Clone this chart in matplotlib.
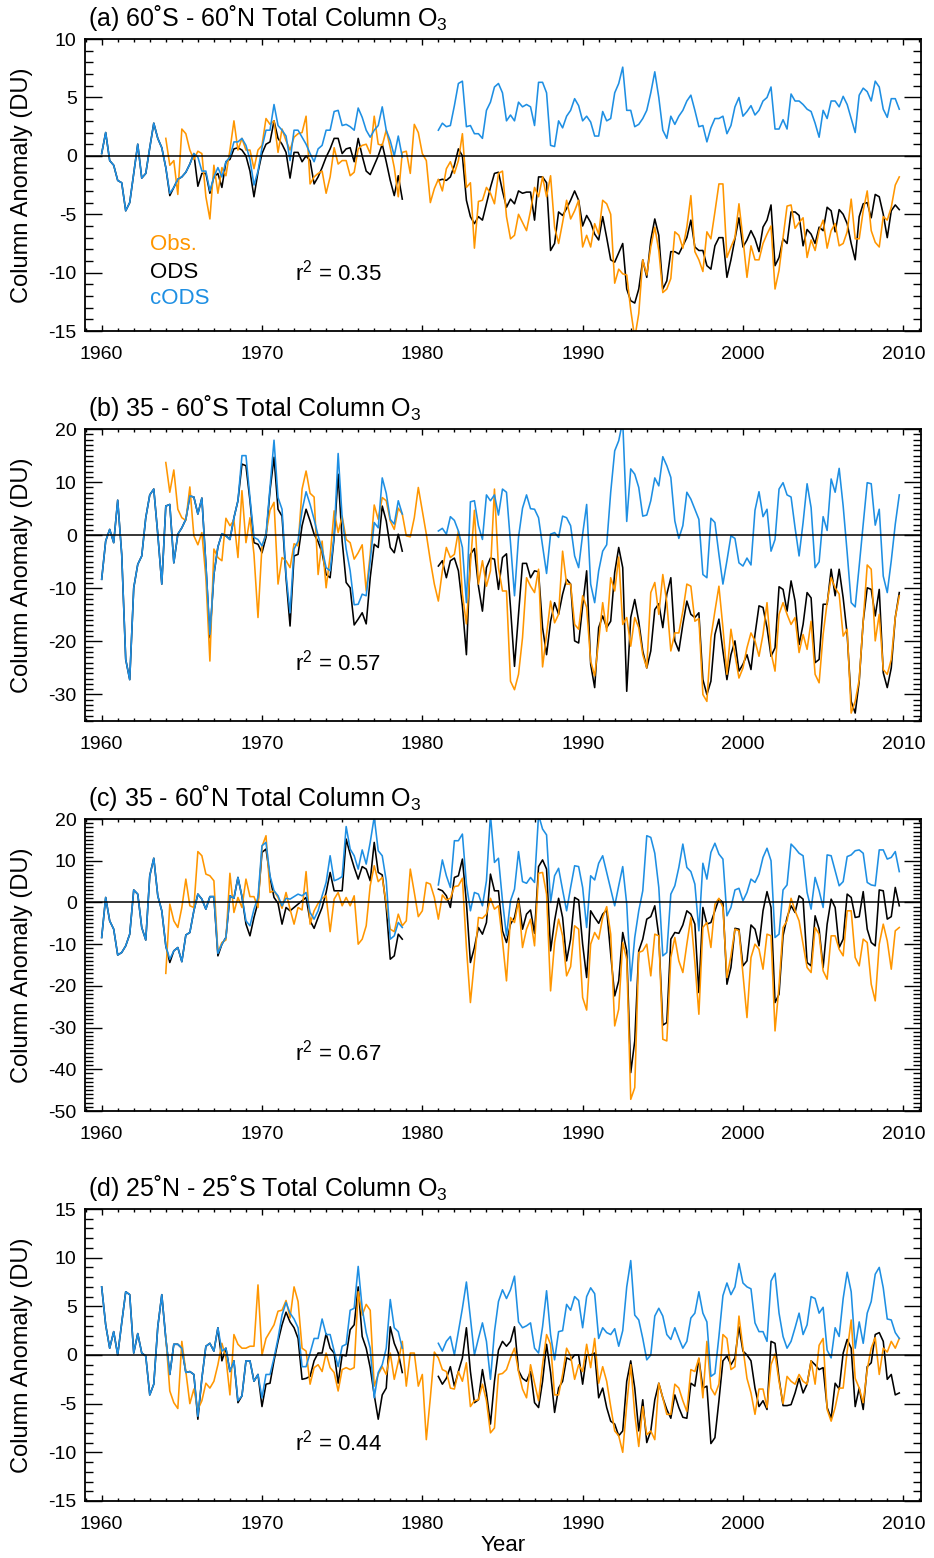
import numpy as np
import matplotlib
matplotlib.use('Agg')
import matplotlib.pyplot as plt
from matplotlib.ticker import MultipleLocator

plt.rcParams['font.family'] = ['Liberation Sans', 'DejaVu Sans']
plt.rcParams['mathtext.fontset'] = 'custom'
plt.rcParams['mathtext.rm'] = 'Liberation Sans'
plt.rcParams['mathtext.it'] = 'Liberation Sans'
plt.rcParams['axes.unicode_minus'] = False

ORANGE = '#ff9600'
BLUE = '#1e8fe3'

# quarterly time axes: obs from 1964, model runs 1960-1978.75 and 1981-2009.75
t_obs = 1964 + 0.25 * np.arange(184)
t_early = 1960 + 0.25 * np.arange(76)
t_late = 1981 + 0.25 * np.arange(116)

# ---------------- (a) 60S - 60N ----------------
a_obs = [1.5, -0.8, -0.4, -3.3, 2.3, 1.9, 0.5, -0.3, 0.4, 0.2, -3.5, -5.4, -0.8, -3.2, -1.0, -1.7, 0.5, 3.0, 0.5, 1.5,
         0.5, 0.5, -1.1, 0.5, 0.9, 3.2, 2.7, 3.0, 0.3, 2.3, 1.3, 0.5, 1.6, 1.9, 2.0, 3.4, -2.4, -1.8, -1.5, -1.3,
         -3.2, -1.8, 0.7, -0.7, -0.4, -0.4, -1.7, -1.4, 0.6, 0.9, 1.0,
         0.2, 3.4, 1.0, 0.9, 2.2, 0.7, -1.0, -3.5, 0.3, 0.4, -1.5, 2.7, 2.0, 0.2, -0.4, -4.0, -2.8, -2.0, -3.0, -1.1,
         -0.5, -1.5, -0.4, 1.9, -2.7, -2.3, -7.9, -3.9, -3.8, -2.7, -3.2, -4.1, -1.5, -1.3, -5.2, -7.1, -6.8, -5.0, -5.7, -6.4,
         -4.7, -2.7, -3.5, -1.8, -3.5, -1.7, -6.1, -7.5, -5.7, -3.8, -5.4, -4.7, -3.8, -7.8, -6.8, -7.8, -5.8, -6.7, -3.8, -4.1,
         -5.0, -10.9, -9.7, -10.1, -10.2, -13.2, -15.6,
         -13.5, -8.9, -10.2, -7.8, -6.1, -8.1, -11.7, -11.4, -10.5, -6.5, -6.8, -7.9, -6.1, -3.4, -8.2, -8.9, -9.9, -6.5, -7.1, -4.8,
         -2.4, -2.4, -8.7, -7.8, -7.0, -4.1, -7.1, -10.4, -7.7, -8.9, -8.9, -7.5, -6.7, -6.0, -11.4, -9.8, -7.0, -4.3, -4.2, -6.2,
         -5.7, -5.3, -8.7, -7.2, -8.1, -6.4, -5.5, -7.9, -6.4, -5.8, -7.7, -7.5, -6.5, -3.7, -7.1, -7.1, -4.7, -3.0, -6.4, -7.4,
         -7.8, -5.2, -5.5, -4.4, -2.5, -1.8]
a_ods_early = [0.2, 2.0, -0.4, -0.8, -2.1, -2.3, -4.7, -4.0, -1.5, 1.0, -1.9, -1.5, 0.7, 2.8, 1.5, 0.7,
               -1.0, -3.4, -2.7, -2.0, -1.8, -1.4, -0.7, 0.2, -2.6, -1.5, -1.5, -3.2, -1.8, -1.5, -2.7, -0.5, -0.3, 0.6, 0.7, 0.5,
               0.0, -1.3, -3.5, -1.4, 0.2, 1.0, 1.2, 3.0, 1.5, 1.0, 0.3, -1.9, 0.3, 0.3, -0.5, 0.0, -0.4, -2.4, -1.8, -1.0,
               -0.1, 0.6, 1.5, 1.5, 0.2, 0.6, 0.7, -0.5, 1.5, 0.0, -1.3,
               -1.6, -0.8, 0.0, 1.0, -0.5, -2.1, -3.4, -1.7, -3.7]
a_ods_late = [-2.1, -2.0, -2.1, -1.8, -0.8, 0.6, 0.0, -3.8, -5.2, -5.8, -5.2, -5.5, -4.1, -2.7, -1.5, -1.4, -3.0, -4.4, -3.7, -4.1,
              -3.0, -3.2, -3.1, -3.1, -5.5, -1.8, -1.8, -2.3, -8.1, -7.5, -4.8, -5.1, -4.5, -3.8, -3.0, -3.8, -6.0, -5.1, -5.7, -6.7,
              -7.2, -5.2, -7.0, -8.9, -9.1, -8.3, -7.5, -11.4, -12.4, -12.6, -11.4, -8.9, -10.4, -7.2, -5.4, -6.8, -11.4, -10.7, -8.2, -8.2,
              -8.4, -7.7, -7.0, -5.5, -7.8, -8.1, -8.1, -9.4, -9.7, -7.7, -7.0, -7.0, -10.4, -8.9, -7.1, -5.3, -7.8, -7.2, -6.4, -7.1,
              -8.2, -6.1, -5.5, -4.2, -9.4, -8.7, -7.1, -7.5, -4.8, -4.8, -5.1, -7.7, -6.3, -6.7, -7.5, -6.1, -6.4, -4.4, -4.7, -6.5,
              -4.6, -5.0, -5.8, -7.5, -8.9, -5.2, -4.1, -4.0, -5.3, -3.3, -3.5, -5.0, -7.0, -4.7, -4.2, -4.6]
a_cods_early = [0.2, 2.0, -0.4, -0.8, -2.1, -2.3, -4.7, -4.0, -1.5, 1.0, -1.9, -1.5, 0.7, 2.8, 1.5, 0.7,
                -1.0, -3.2, -2.7, -2.0, -1.8, -1.4, -0.7, 0.2, -0.1, -1.3, -1.3, -3.0, -1.8, -1.0, -1.8, -0.5, -0.1, 1.2, 1.2, 1.5,
                0.9, -0.3, -2.5, -1.3, 0.7, 2.2, 2.2, 4.4, 2.6, 2.2, 1.7, -0.4, 2.2, 2.2, 1.6, 1.0, 0.2, -0.5, 0.6, 0.9,
                2.2, 2.2, 3.8, 3.9, 2.6, 2.7, 2.5, 2.2, 4.1, 3.3, 2.2,
                1.6, 2.2, 2.6, 4.2, 2.2, 1.3, 0.0, 1.7, -0.1]
a_cods_late = [2.2, 2.8, 2.5, 2.6, 4.3, 6.2, 6.4, 2.5, 2.6, 1.9, 1.9, 1.5, 3.9, 4.6, 5.9, 6.2, 5.4, 3.0, 3.5, 3.0,
               4.6, 4.2, 4.4, 4.2, 2.6, 6.3, 6.3, 5.4, 0.9, 0.8, 3.0, 2.4, 3.4, 3.9, 4.9, 4.3, 3.0, 3.4, 2.9, 1.7,
               1.7, 3.8, 3.0, 3.2, 5.4, 6.2, 7.6, 3.9, 3.9, 2.5, 2.7, 3.2, 3.9, 5.4, 7.2, 5.0, 2.2, 1.5, 3.4, 2.7,
               3.4, 3.9, 4.7, 5.2, 3.9, 2.5, 2.6, 1.2, 2.4, 3.2, 3.2, 3.4, 1.9, 2.6, 4.2, 5.0, 3.4, 3.8, 4.3, 3.5,
               3.9, 4.7, 5.0, 5.9, 2.3, 2.3, 3.1, 2.3, 5.3, 4.7, 4.7, 4.4, 4.0, 3.8, 2.8, 1.6, 3.9, 3.2, 4.7, 4.7,
               4.2, 5.1, 4.4, 3.2, 2.0, 5.2, 5.8, 5.5, 4.7, 6.4, 5.9, 4.0, 3.3, 4.9, 4.9, 4.0]

# ---------------- (b) 35 - 60S ----------------
b_obs = [13.7, 8.1, 12.3, 4.9, 3.3, 2.8, 9.1, -0.1, -1.8, 0.5, -8.0, -23.7, -2.6, -4.2, -4.8, 3.2, 1.8, 2.8, -4.2, 8.4,
         -1.4, 3.3, -3.6, -15.5, -2.0, 0.2, 4.7, 6.2, -9.2, -4.2, -4.8, -6.1, -1.6, -2.0, 8.7, 12.1, 7.9, 7.2, -7.4, -1.1,
         -9.9, -3.9, 4.6, 0.5, 3.6, -0.8, -1.4, -4.5, -3.3, -1.8, -10.5,
         -3.6, 5.7, 3.0, 7.1, 6.5, 2.7, 1.1, 5.1, 4.0, -0.1, -0.3, 3.3, 9.0, 4.6, 0.2, -4.8, -9.2, -12.4, -6.7, -2.3,
         -4.2, -3.6, 0.8, -11.1, -16.7, -5.5, 4.7, -9.2, -4.8, -9.6, -6.7, 8.7, -6.1, -10.5, -10.5, -27.5, -29.1, -26.2, -19.3, -8.0,
         -9.6, -10.8, -6.4, -24.8, -18.7, -12.4, -16.5, -14.9, -3.0, -9.2, -9.2, -16.8, -17.7, -11.4, -13.6, -23.7, -26.5, -19.9, -12.7, -18.1,
         -8.0, -10.5, -4.1, -16.8, -15.5, -20.9, -15.5,
         -17.4, -22.5, -25.0, -10.8, -8.9, -14.9, -7.4, -12.7, -21.8, -18.4, -18.4, -14.3, -9.2, -9.6, -16.2, -15.7, -30.0, -31.3, -19.3, -14.3,
         -9.6, -17.4, -26.2, -17.7, -22.5, -26.9, -25.0, -21.2, -18.4, -19.9, -22.8, -18.7, -12.7, -22.1, -25.6, -14.9, -12.7, -14.9, -16.8, -15.5,
         -22.1, -18.7, -21.5, -16.2, -26.2, -27.8, -18.7, -12.7, -8.0, -9.9, -11.1, -19.0, -17.7, -33.5, -31.3, -27.2, -16.2, -5.6, -6.4, -19.9,
         -14.9, -25.3, -26.2, -23.4, -15.5, -11.4]
b_ods_early = [-8.3, -1.1, 1.1, -1.4, 6.6, -3.6, -23.4, -27.2, -9.9, -5.5, -3.9, 3.3, 7.6, 8.7, 0.2, -9.2, 5.5, 5.8, -5.2, 0.2,
               1.4, 3.0, 7.4, 7.2, 4.0, 7.0, -5.5, -19.3, -7.4, -2.2, 0.3, -0.1, -0.8, 3.3, 6.5,
               13.4, 13.1, 6.5, -1.4, -1.7, -3.3, -0.4, 8.4, 14.7, 4.9, 3.6, -8.0, -17.1, -3.9, -3.6, 1.8, 4.9, 2.7, 0.2, -1.2,
               -3.3, -7.4, -8.0, -0.4, 11.5, -1.1, -8.9, -9.9, -16.9, -15.8, -14.6, -16.7,
               -8.0, -1.7, -2.3, 5.5, 2.7, -2.3, -3.3, 0.2, -3.0]
b_ods_late = [-5.8, -4.8, -8.0, -4.8, -4.3, -6.7, -13.3, -22.5, -3.6, -2.5, -9.6, -14.3, -6.1, -4.3, -4.5, -10.2, -4.2, -3.5, -13.6, -24.7,
              -14.9, -5.3, -5.3, -8.0, -6.7, -6.9, -17.4, -22.5, -16.2, -12.7, -14.9, -11.1, -8.3, -9.2, -19.9, -20.3, -13.3, -6.7, -24.3, -28.7,
              -17.4, -15.2, -17.4, -16.2, -7.0, -2.3, -6.1, -29.4, -15.5, -12.1, -16.2, -21.8, -25.0, -21.8, -14.0, -12.9, -17.4, -11.1, -8.0, -19.9,
              -21.8, -16.8, -12.4, -14.9, -15.5, -14.6, -27.2, -30.0, -27.5, -18.7, -15.8, -21.8, -27.2, -22.5, -19.9, -25.6, -24.3, -22.5, -25.3, -18.7,
              -13.3, -13.6, -17.4, -22.8, -21.2, -9.7, -10.2, -14.3, -8.6, -12.4, -20.6, -16.8, -10.8, -11.8, -24.0, -23.4, -13.0, -13.0, -6.4, -11.4,
              -6.4, -11.8, -18.7, -31.3, -33.5, -27.5, -16.2, -9.9, -10.2, -15.2, -10.2, -25.9, -28.7, -25.0, -15.5, -10.8]
b_cods_early = [-8.3, -1.1, 1.1, -1.4, 6.6, -3.6, -23.4, -27.2, -9.9, -5.5, -3.9, 3.3, 7.6, 8.7, 0.2, -9.2, 5.5, 5.8, -5.2, 0.2,
                1.4, 3.0, 7.4, 7.2, 4.0, 7.0, -5.5, -18.7, -7.4, -2.2, 0.3, -0.1, -0.8, 3.3, 6.5, 15.0, 15.0, 7.1, -0.4, -0.8,
                -2.0, 0.2, 9.0, 17.9, 7.1, 4.9, -7.4, -14.6, -2.6, -1.1, 4.7, 8.2, 5.8, 3.0, -0.1, -2.6, -6.1, -6.7, -0.1, 15.4,
                3.3, -2.6, -6.7, -13.1, -13.0, -11.1, -11.4,
                -4.8, 2.4, 1.4, 10.8, 7.9, 3.0, 2.1, 6.5, 4.0]
b_cods_late = [0.8, 1.3, 0.2, 3.5, 2.8, 0.8, -2.3, -12.7, 6.3, 6.5, 1.8, -0.8, 7.6, 6.5, 7.6, 3.8, 8.7, 8.1, -1.4, -11.4,
               -0.4, 5.1, 7.6, 5.0, 4.9, 3.3, -2.0, -7.2, 0.2, 0.5, -0.4, 3.6, 3.3, 1.8, -3.9, -6.1, 0.2, 5.8, -9.2, -12.7,
               -6.7, -3.0, -1.8, 8.1, 15.9, 17.8, 21.5, 2.6, 12.5, 11.5, 9.0, 3.6, 3.8, 6.5, 10.8, 9.3, 14.8, 13.1, 10.9, 2.7,
               -0.6, 1.8, 8.1, 6.8, 4.9, 3.0, -7.4, -8.0, 3.2, 2.4, -3.6, -9.2, -4.8, -0.1, -0.6, -5.2, -5.8, -4.3, -5.6, 4.7,
               8.2, 3.5, 4.9, -3.0, -0.8, 8.7, 9.9, 7.6, 7.2, 1.4, -3.9, 2.4, 9.7, 5.2, -6.1, -5.0, 3.5, 0.9, 10.6, 8.1,
               12.6, 5.5, -3.3, -12.7, -13.5, -5.8, 2.1, 9.9, 9.7, 1.9, 4.9, -7.7, -10.8, -4.8, 2.1, 7.6]

# ---------------- (c) 35 - 60N ----------------
c_obs = [-17.0, -0.4, -4.4, -6.0, -1.2, 5.6, -0.8, -1.2, 12.2, 11.2, 6.8, 6.4, 5.2, -12.0, -9.6, -9.0, 7.0, -2.4, 1.2, -1.2,
         5.6, 1.4, 1.4, -1.2, 13.4, 16.0, 2.4, 2.8, 1.2, -1.4, 2.4, -1.6, -5.2, -1.2, -1.8, 7.4, -5.2, -2.0, -0.2, 1.0,
         1.6, -7.0, 0.8, 2.4, -0.8, 1.2, -0.8, 1.6, -10.0, -8.8, -5.6,
         4.0, 8.8, 5.0, 6.0, -0.4, -6.4, -7.0, -2.8, -5.6, -4.4, 8.0, 2.4, -3.4, -2.0, 4.8, 4.4, 1.2, -4.0, 1.8, 0.6,
         1.0, 3.8, 4.0, 5.8, -10.8, -24.0, -14.0, -3.6, -3.8, -2.8, 1.0, -1.6, -0.8, -9.2, -18.8, -3.6, -4.8, 0.4, -10.8, -6.4,
         -4.0, -10.4, 7.0, 7.2, 2.0, -21.2, -9.6, -4.0, -8.0, -17.6, -15.4, -5.6, -6.4, -22.8, -25.8, -10.0, -7.2, -8.8, -3.6, -1.0,
         -7.6, -29.6, -25.6, -9.6, -13.6, -47.2, -44.4,
         -12.0, -11.6, -10.0, -17.6, -7.6, -8.0, -32.8, -33.2, -13.2, -8.4, -14.0, -16.8, -10.0, -3.6, -14.4, -26.8, -6.0, -4.8, -10.8, -0.4,
         1.0, -1.2, -18.0, -12.8, -6.4, -6.8, -17.2, -27.6, -13.2, -10.0, -11.2, -16.0, -7.6, -8.0, -30.8, -20.0, -6.0, -4.4, 1.0, -2.0,
         -4.4, -10.0, -15.6, -16.8, -6.0, -7.6, -16.4, -18.4, -8.0, -8.0, -11.2, -12.8, -2.0, -2.0, -13.2, -15.2, -8.8, -9.6, -19.6, -23.6,
         -10.0, -5.2, -9.2, -16.0, -6.8, -6.0]
c_ods_early = [-8.4, 1.2, -4.4, -6.4, -12.6, -12.0, -10.4, -7.6, 3.0, 2.0, -6.0, -9.0, 6.4, 10.6, 1.6, -2.0, -10.4, -14.4, -11.6, -10.8,
               -14.2, -7.8, -7.2, -2.0, 2.0, 0.8, -1.6, 1.4, 1.4, -12.8, -10.0, -8.4, 1.6, 1.0, 6.0, 1.4,
               -5.2, -8.0, -3.6, 0.0, 12.0, 12.8,
               6.0, 1.2, -0.2, -5.2, -1.2, -2.0, -1.2, -0.4, 0.4, 1.2, -4.4, -6.2, -3.6, -1.2, 2.4, 7.2, 2.8, 2.8, 2.8, 15.2,
               11.6, 8.4, 5.6, 8.6, 8.0,
               5.2, 14.4, 7.2, 6.6, -1.2, -13.6, -12.8, -7.6, -8.8]
c_ods_late = [3.2, 2.8, 1.6, -1.2, 6.0, 6.4, 10.4, 0.0, -14.4, -10.8, -6.0, -7.6, -4.8, 6.8, 2.8, 2.8, -6.8, -9.6, -5.2, -3.6,
              1.0, -6.4, -2.8, -1.8, -7.4, 8.6, 10.2, 8.0, -11.6, -4.4, 1.0, -3.6, -14.0, -8.8, 1.2, 0.6, -10.0, -18.0, -2.0, -3.6,
              -5.0, -2.8, -1.8, -12.4, -22.4, -18.8, -7.2, -11.6, -40.8, -33.2, -11.6, -8.8, -4.0, -3.4, -0.8, -8.0, -29.4, -28.8, -8.8, -7.2,
              -7.4, -5.4, -2.0, -2.8, -5.2, -21.6, -1.2, -5.2, -4.8, -2.0, 0.8, 0.0, -19.6, -15.6, -6.2, -6.4, -15.2, -14.0, -5.4, -6.4,
              -10.4, -2.0, 2.6, -1.2, -24.0, -22.0, -8.0, -3.6, -0.8, -2.4, 1.6, 0.8, -14.4, -15.2, -3.2, -6.4, -15.6, -5.2, 0.8, -1.2,
              -10.8, -8.8, 2.0, 1.2, -3.6, -3.4, 2.6, -6.4, -9.6, -10.4, 3.0, 2.8, -4.0, -3.4, 3.6, -0.8]
c_cods_early = [-8.4, 1.2, -4.4, -6.4, -12.6, -12.0, -10.4, -7.6, 3.0, 2.0, -6.0, -9.0, 6.4, 10.6, 1.6, -2.0, -10.4, -13.6, -11.6, -10.8,
                -14.2, -7.8, -7.2, -2.0, 2.0, 0.8, -1.6, 1.4, 1.4, -12.2, -10.0, -8.4, 1.6, 1.0, 6.0, 1.4, -4.4, -5.6, -1.6, 1.2,
                13.6, 14.4, 6.4, 2.8, 1.6, -0.8, 1.0, 0.8, 1.4, 2.0, 1.6, 2.4, -2.4, -4.0, -2.0, 1.6, 4.8, 11.2, 5.2, 5.6,
                6.2, 18.2, 12.8, 11.2, 8.0, 12.6, 9.2,
                14.4, 20.5, 12.4, 11.2, 5.2, -8.8, -8.0, -4.8, -6.0]
c_cods_late = [4.2, 10.2, 6.4, 3.6, 14.8, 14.8, 16.4, 4.4, -2.0, 2.4, 2.0, -0.8, 5.2, 21.0, 9.6, 10.6, 0.4, -8.0, 0.4, 3.2,
               12.2, 5.0, 4.6, 6.0, 4.8, 21.0, 17.6, 16.2, 0.0, 6.4, 8.2, 3.0, -2.0, 3.6, 8.8, 8.6, 3.6, -6.0, 6.4, 5.4,
               9.4, 11.2, 7.2, 3.2, -0.8, 4.0, 8.6, -0.4, -18.8, -8.4, -2.0, 2.8, 16.0, 15.6, 11.8, 3.6, -12.8, -12.0, 2.0, 4.0,
               8.4, 14.0, 8.4, 7.4, 4.4, -6.8, 9.4, 5.6, 12.0, 14.2, 11.6, 10.4, -3.2, -1.2, 3.0, 3.4, 0.4, 2.4, 5.6, 4.8,
               6.8, 10.8, 13.0, 10.0, -8.4, -7.6, 3.0, 4.2, 14.0, 13.0, 11.8, 11.2, 2.4, -1.6, 6.0, 2.8, -1.2, 11.4, 11.2, 7.6,
               4.0, 5.0, 11.0, 11.4, 12.4, 12.6, 11.8, 4.8, 4.2, 4.0, 12.6, 12.6, 10.4, 10.8, 12.2, 7.4]

# ---------------- (d) 25N - 25S ----------------
d_obs = [1.9, -3.7, -4.9, -5.5, 1.4, -1.7, -5.0, -3.5, -5.6, -4.7, -2.9, -3.4, -2.7, -1.0, 1.2, -0.3, -4.1, 2.1, 1.1, 0.7,
         0.7, 0.9, 0.9, 7.2, 0.0, 1.7, 2.4, 3.1, 4.5, 4.6, 5.6, 3.8, 7.0, 5.5, 0.7, 0.4, -3.0, -1.3, -1.0, -1.7,
         0.2, -1.3, -1.8, -3.7, -1.5, -1.3, -1.5, -1.3, 6.5, 4.1, 5.2,
         4.6, -3.2, -2.0, -1.2, -2.0, 0.2, -2.5, -0.7, 1.4, -3.2, 0.2, 0.2, -3.2, -2.0, -8.7, -4.4, 0.3, -0.3, -1.5, -1.7,
         -3.4, -3.5, -1.7, -2.7, -0.8, -5.3, -4.7, -4.6, -3.0, -4.7, -8.0, -7.5, -2.0, -1.9, -1.5, -0.3, 0.7, -1.7, -3.5, -4.4,
         -1.0, -2.9, -4.7, -1.0, 2.1, 1.1, -4.1, -4.1, -2.0, 0.7, -0.1, -2.5, -1.0, -1.7, 1.1, -1.3, 1.7, -2.9, -1.2, -2.7,
         -5.3, -7.8, -8.3, -10.0, -5.1, -1.0, -6.1,
         -9.4, -5.3, -8.2, -7.8, -8.7, -2.9, -4.4, -6.1, -6.1, -3.0, -3.4, -4.7, -5.8, -1.5, -1.7, -0.3, -4.4, 1.4, -3.4, -4.1,
         -3.0, 2.1, 1.7, -1.5, -1.2, 4.0, 0.7, -2.4, -3.9, -6.1, -3.5, -3.5, -5.4, -1.0, 0.1, -2.7, -5.0, -2.2, -2.7, -3.0,
         -2.0, -2.7, -3.0, -0.6, -3.0, 1.0, 1.7, -5.6, -6.8, -5.4, -3.4, -3.4, 0.4, 3.6, -2.4, -3.4, -4.9, -1.5, 0.7, 1.8,
         -2.0, 0.7, 0.3, 1.4, 0.7, 1.7]
d_ods_early = [7.0, 3.1, 0.7, 2.4, 0.0, 3.3, 6.5, 6.2, 0.2, 2.2, 0.2, -0.1, -4.1, -3.0, 2.9, 6.2, 1.7, -2.0, 1.1, 1.1,
               0.7, -1.8, -1.7, -2.0, -6.6, -2.4, 0.9, 1.2, 0.4, 2.8, -0.6, 0.7, -1.7, -0.6, -4.9, -4.2, -0.6, -0.6, -2.7, -2.0,
               -5.3, -3.0, -2.9, -0.6, 1.4, 3.1, 4.4, 3.4, 2.8, 1.7, -2.5, -2.4, -2.2, -0.6, 0.2, 0.2, 2.2, 0.7, 0.2, -2.9,
               0.0, -0.1, 2.6, 3.1, 7.0, 1.9, 0.7,
               -1.3, -4.1, -6.6, -4.1, -3.4, 2.9, 1.2, 0.2, -1.8]
d_ods_late = [-2.2, -3.0, -2.4, -1.2, -3.2, -1.7, -0.3, 2.8, -1.7, -4.9, -4.6, -1.5, -3.9, -7.1, -2.7, 0.5, 1.4, 0.9, 1.4, 2.9,
              -1.6, -2.4, -2.7, -1.7, -4.9, -5.4, -2.7, 1.1, -1.8, -5.9, -3.4, -2.7, -0.3, -0.5, 0.0, 0.0, -3.0, 0.0, 0.0, 0.2,
              -4.4, -3.4, -5.4, -6.8, -7.1, -8.3, -7.8, -2.7, -0.6, -3.4, -7.8, -4.6, -9.0, -7.8, -4.6, -2.9, -4.4, -5.6, -6.5, -4.1,
              -5.4, -6.4, -6.5, -2.9, -3.2, -0.4, -3.4, -3.2, -9.1, -8.5, -4.7, -0.6, -0.1, -1.0, -0.3, 2.9, 0.4, 0.0, -0.6, -3.4,
              -5.3, -4.7, -5.6, 1.4, 1.2, -2.4, -5.2, -5.2, -5.1, -3.9, -2.4, -3.9, -3.0, -0.6, -1.0, -1.5, -1.3, -5.4, -6.5, -2.9,
              -3.5, 0.2, 1.6, 0.7, -5.3, -3.4, -5.6, -1.2, -0.8, 2.1, 2.3, 1.4, -2.5, -2.0, -4.1, -3.9]
d_cods_early = [7.0, 3.1, 0.7, 2.4, 0.0, 3.3, 6.5, 6.2, 0.2, 2.2, 0.2, -0.1, -4.1, -3.0, 2.9, 6.2, 1.7, -2.0, 1.1, 1.1,
                0.7, -1.8, -1.7, -2.0, -6.3, -2.4, 0.9, 1.2, 0.4, 2.8, 0.4, 0.7, -1.7, -0.6, -4.7, -4.2, -0.6, -0.6, -2.7, -2.0,
                -4.4, -2.0, -2.0, -0.3, 1.7, 4.1, 5.4, 4.3, 3.7, 2.8, -1.2, -1.2, 0.2, 1.7, 1.7, 3.7, 2.1, 2.1, 0.4, -1.2,
                0.9, 1.1, 4.6, 4.8, 9.1, 4.8, 2.3,
                0.7, -4.4, -1.8, -1.0, 0.7, 5.7, 2.8, 2.4, 0.7]
d_cods_late = [1.2, 0.4, 1.4, 1.9, 0.0, 2.4, 4.8, 7.5, 3.8, 0.0, 1.7, 3.3, 1.4, -2.5, 2.4, 5.5, 6.7, 5.8, 6.7, 8.1,
               3.4, 2.8, 3.0, 3.3, 0.7, 0.2, 2.9, 6.6, 2.1, -0.5, 2.4, 2.5, 5.2, 4.6, 6.0, 5.6, 2.8, 6.0, 6.9, 6.3,
               1.7, 2.8, 2.3, 2.1, 2.7, 0.9, 2.5, 7.0, 9.7, 4.1, 3.6, 1.7, -0.5, 0.0, 4.0, 4.8, 4.0, 2.1, 1.6, 2.8,
               1.7, 0.7, 1.4, 3.8, 4.3, 6.5, 4.3, 3.4, -2.2, -1.9, 1.9, 6.1, 7.4, 6.2, 7.0, 9.4, 7.4, 7.0, 6.8, 3.3,
               2.4, 2.4, 1.4, 7.6, 8.4, 4.3, 1.9, 0.7, 1.4, 2.8, 4.3, 2.1, 3.1, 6.0, 5.8, 4.3, 4.9, 0.5, -0.3, 2.8,
               1.9, 5.8, 8.5, 6.5, 0.7, 3.4, 1.2, 4.3, 5.5, 8.3, 9.0, 6.9, 3.7, 3.6, 2.3, 1.7]


def draw_panel(ax, obs, ods_e, ods_l, cods_e, cods_l, ylim, ystep, title, r2):
    lw = 1.15
    ax.plot(t_early, ods_e, color='black', lw=lw)
    ax.plot(t_late, ods_l, color='black', lw=lw)
    ax.plot(t_obs, obs, color=ORANGE, lw=lw)
    ax.plot(t_early, cods_e, color=BLUE, lw=lw)
    ax.plot(t_late, cods_l, color=BLUE, lw=lw)
    ax.axhline(0, color='black', lw=1.1)

    ax.set_xlim(1958.96, 2011.1)
    ax.set_ylim(*ylim)
    ax.xaxis.set_major_locator(MultipleLocator(10))
    ax.xaxis.set_minor_locator(MultipleLocator(1))
    ax.yaxis.set_major_locator(MultipleLocator(ystep))
    ax.yaxis.set_minor_locator(MultipleLocator(1))
    ax.tick_params(which='both', direction='in', top=True, right=True, labelsize=14, width=1.0)
    ax.tick_params(axis='x', which='major', length=4.5, pad=10.5)
    ax.tick_params(axis='x', which='minor', length=2.3)
    ax.tick_params(axis='y', which='major', length=12, pad=6)
    ax.tick_params(axis='y', which='minor', length=6)
    for s in ax.spines.values():
        s.set_linewidth(1.3)

    ax.set_ylabel('Column Anomaly (DU)', fontsize=17)
    ax.yaxis.set_label_coords(-0.062, 0.5)
    ax.text(0.004, 1.072, title, transform=ax.transAxes, ha='left', va='center', fontsize=18)
    ax.text(0.251, 0.2, 'r$^2$ = ' + r2, transform=ax.transAxes, ha='left', va='center', fontsize=16)


fig = plt.figure(figsize=(9.34, 15.58), dpi=100)
left, width, height = 0.091, 0.895, 0.1874
bottoms = [0.7875, 0.5372, 0.2869, 0.0366]
axes = [fig.add_axes([left, b, width, height]) for b in bottoms]

draw_panel(axes[0], a_obs, a_ods_early, a_ods_late, a_cods_early, a_cods_late,
           (-15, 10), 5, '(a) 60˚S - 60˚N Total Column O$_3$', '0.35')
draw_panel(axes[1], b_obs, b_ods_early, b_ods_late, b_cods_early, b_cods_late,
           (-35, 20), 10, '(b) 35 - 60˚S Total Column O$_3$', '0.57')
draw_panel(axes[2], c_obs, c_ods_early, c_ods_late, c_cods_early, c_cods_late,
           (-50, 20), 10, '(c) 35 - 60˚N Total Column O$_3$', '0.67')
draw_panel(axes[3], d_obs, d_ods_early, d_ods_late, d_cods_early, d_cods_late,
           (-15, 15), 5, '(d) 25˚N - 25˚S Total Column O$_3$', '0.44')

# legend as coloured words in panel (a)
axes[0].text(0.078, 0.295, 'Obs.', color=ORANGE, transform=axes[0].transAxes, va='center', fontsize=16)
axes[0].text(0.078, 0.202, 'ODS', color='black', transform=axes[0].transAxes, va='center', fontsize=16)
axes[0].text(0.078, 0.113, 'cODS', color=BLUE, transform=axes[0].transAxes, va='center', fontsize=16)

axes[3].set_xlabel('Year', fontsize=16, labelpad=2)

fig.savefig('out.png', dpi=100)
